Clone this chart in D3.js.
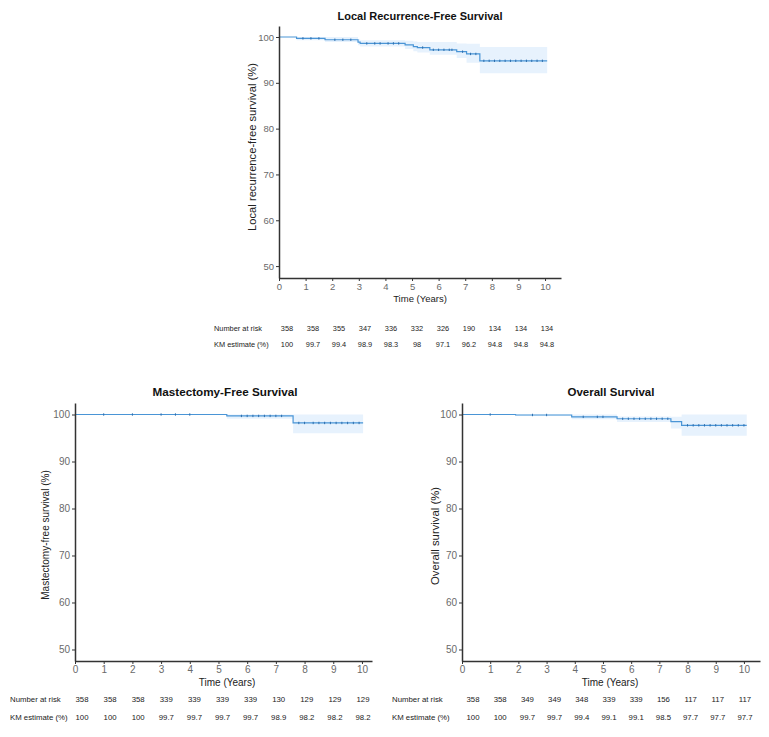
<!DOCTYPE html>
<html>
<head>
<meta charset="utf-8">
<script src="https://cdn.jsdelivr.net/npm/d3@7"></script>
<style>
  html, body { margin: 0; padding: 0; background: #fff; }
  svg { display: block; font-family: "Liberation Sans", Arial, sans-serif; }
</style>
</head>
<body>
<svg id="chart" width="769" height="737"></svg>
<script>
// ---------- DATA ----------
const xTicks = [0, 1, 2, 3, 4, 5, 6, 7, 8, 9, 10];
const yTicks = [50, 60, 70, 80, 90, 100];

// Local recurrence-free survival
const lrfsTimes = [0, 0.66, 1.73, 2.97, 3.05, 4.74, 5.05, 5.2, 5.67, 6.68, 7.05, 7.55, 10.08];
const lrfsSurv  = [100, 99.7, 99.4, 98.9, 98.6, 98.3, 97.9, 97.7, 97.2, 96.8, 96.3, 94.8, 94.8];
const lrfsUpper = [100, 100, 100, 99.5, 99.3, 99.2, 99.0, 98.9, 98.9, 98.6, 98.5, 97.8, 97.8];
const lrfsLower = [100, 99.3, 98.9, 98.2, 97.9, 97.4, 96.9, 96.6, 96.1, 95.4, 94.4, 92.1, 92.1];
const lrfsCensor = [0.9, 1.2, 1.5, 2.1, 2.4, 2.7, 3.3, 3.6, 3.8, 4.1, 4.3, 4.5, 5.4, 5.8, 6.0, 6.2, 6.4, 6.5, 6.9, 7.2, 7.4, 7.7, 7.9, 8.1, 8.3, 8.5, 8.7, 8.9, 9.1, 9.3, 9.5, 9.7, 9.9];
const lrfsAtRisk = [358, 358, 355, 347, 336, 332, 326, 190, 134, 134, 134];
const lrfsKM = ["100", "99.7", "99.4", "98.9", "98.3", "98", "97.1", "96.2", "94.8", "94.8", "94.8"];

// Mastectomy-free survival
const mfsTimes = [0, 5.29, 7.6, 10.04];
const mfsSurv  = [100, 99.7, 98.2, 98.2];
const mfsUpper = [100, 100, 100, 100];
const mfsLower = [100, 99.1, 96.0, 96.0];
const mfsCensor = [1.0, 2.0, 3.0, 3.5, 4.0, 5.8, 6.0, 6.2, 6.4, 6.6, 6.8, 7.0, 7.2, 7.8, 8.0, 8.3, 8.5, 8.7, 8.9, 9.1, 9.3, 9.5, 9.7, 9.9];
const mfsAtRisk = [358, 358, 358, 339, 339, 339, 339, 130, 129, 129, 129];
const mfsKM = ["100", "100", "100", "99.7", "99.7", "99.7", "99.7", "98.9", "98.2", "98.2", "98.2"];

// Overall survival
const osTimes = [0, 1.9, 3.89, 5.5, 7.41, 7.79, 10.1];
const osSurv  = [100, 99.9, 99.5, 99.1, 98.5, 97.7, 97.7];
const osUpper = [100, 100, 100, 99.6, 99.5, 100, 100];
const osLower = [100, 99.7, 99.0, 98.4, 97.0, 95.5, 95.5];
const osCensor = [1.0, 2.5, 3.0, 4.3, 4.8, 5.0, 5.7, 5.9, 6.1, 6.3, 6.5, 6.7, 6.9, 7.1, 7.3, 8.0, 8.2, 8.4, 8.6, 8.8, 9.0, 9.2, 9.4, 9.6, 9.8, 10.0];
const osAtRisk = [358, 358, 349, 349, 348, 339, 339, 156, 117, 117, 117];
const osKM = ["100", "100", "99.7", "99.7", "99.4", "99.1", "99.1", "98.5", "97.7", "97.7", "97.7"];

// ---------- DRAW ----------
const svg = d3.select("#chart");
const lineColor = "#4a95d6";
const bandColor = "#e7f2fd";
const censorColor = "#2d6eae";

function drawKM(cfg) {
  const g = svg.append("g");
  const x = d3.scaleLinear().domain([0, cfg.xMax]).range([cfg.left, cfg.right]);
  const y = d3.scaleLinear().domain([cfg.yMin, cfg.yMax]).range([cfg.bottom, cfg.top]);

  const pts = cfg.times.map((t, i) => ({t, s: cfg.surv[i], u: cfg.upper[i], l: cfg.lower[i]}));

  g.append("path")
    .datum(pts)
    .attr("fill", bandColor)
    .attr("d", d3.area().curve(d3.curveStepAfter)
      .x(d => x(d.t)).y0(d => y(d.l)).y1(d => y(d.u)));

  g.append("path")
    .datum(pts)
    .attr("fill", "none")
    .attr("stroke", lineColor)
    .attr("stroke-width", 1.2)
    .attr("d", d3.line().curve(d3.curveStepAfter).x(d => x(d.t)).y(d => y(d.s)));

  const survAt = t => { let v = cfg.surv[0]; cfg.times.forEach((tt, i) => { if (tt <= t) v = cfg.surv[i]; }); return v; };
  g.selectAll(".cens").data(cfg.censor).join("line")
    .attr("x1", d => x(d)).attr("x2", d => x(d))
    .attr("y1", d => y(survAt(d)) - 1.2).attr("y2", d => y(survAt(d)) + 1.2)
    .attr("stroke", censorColor).attr("stroke-width", 1);

  const xAxis = g.append("g").attr("transform", `translate(0,${cfg.bottom})`)
    .call(d3.axisBottom(x).tickValues(xTicks).tickSize(3).tickSizeOuter(0).tickPadding(2));
  const yAxis = g.append("g").attr("transform", `translate(${cfg.left},0)`)
    .call(d3.axisLeft(y).tickValues(yTicks).tickSize(3).tickSizeOuter(0).tickPadding(2));
  [xAxis, yAxis].forEach(a => {
    a.select(".domain").attr("stroke", "#333").attr("stroke-width", 1.5);
    a.selectAll(".tick line").attr("stroke", "#333");
    a.selectAll(".tick text").attr("fill", "#6a6a6a").attr("font-size", cfg.tickSize)
      .attr("font-family", "Liberation Sans, Arial, sans-serif");
  });

  g.append("text").attr("x", cfg.titleX).attr("y", cfg.titleY)
    .attr("text-anchor", "middle").attr("font-weight", "bold").attr("font-size", cfg.titleSize)
    .attr("fill", "#111").text(cfg.title);

  g.append("text").attr("x", cfg.xLabelX).attr("y", cfg.xLabelY)
    .attr("text-anchor", "middle").attr("font-size", cfg.xLabelSize).attr("fill", "#222").text("Time (Years)");

  g.append("text")
    .attr("transform", `translate(${cfg.yLabelX},${cfg.yLabelY}) rotate(-90)`)
    .attr("text-anchor", "middle").attr("dominant-baseline", "central")
    .attr("font-size", cfg.yLabelSize).attr("fill", "#222").text(cfg.yLabel);

  const cx = d3.scaleLinear().domain([0, 10]).range([cfg.colStart, cfg.colEnd]);
  const fs = cfg.tableSize;
  g.append("text").attr("x", cfg.tableLabelX).attr("y", cfg.row1Y)
    .attr("font-size", fs).attr("fill", "#222").text("Number at risk");
  g.append("text").attr("x", cfg.tableLabelX).attr("y", cfg.row2Y)
    .attr("font-size", fs).attr("fill", "#222").text("KM estimate (%)");
  g.selectAll(".r1").data(cfg.atRisk).join("text")
    .attr("x", (d, i) => cx(xTicks[i])).attr("y", cfg.row1Y)
    .attr("text-anchor", "middle").attr("font-size", fs).attr("fill", "#222").text(d => d);
  g.selectAll(".r2").data(cfg.km).join("text")
    .attr("x", (d, i) => cx(xTicks[i])).attr("y", cfg.row2Y)
    .attr("text-anchor", "middle").attr("font-size", fs).attr("fill", "#222").text(d => d);
}

drawKM({
  title: "Local Recurrence-Free Survival", titleX: 420, titleY: 20, titleSize: 11,
  yLabel: "Local recurrence-free survival (%)", yLabelX: 252, yLabelY: 147, yLabelSize: 11.2,
  left: 279, right: 561, xMax: 10.6, top: 26, bottom: 278, yMin: 47.4, yMax: 102.4,
  tickSize: 9.5, xLabelX: 420, xLabelY: 302, xLabelSize: 9.5,
  times: lrfsTimes, surv: lrfsSurv, upper: lrfsUpper, lower: lrfsLower, censor: lrfsCensor,
  atRisk: lrfsAtRisk, km: lrfsKM, tableLabelX: 214, colStart: 287, colEnd: 547, row1Y: 331, row2Y: 347, tableSize: 7.4
});

drawKM({
  title: "Mastectomy-Free Survival", titleX: 225, titleY: 396, titleSize: 11.7,
  yLabel: "Mastectomy-free survival (%)", yLabelX: 45, yLabelY: 535, yLabelSize: 10,
  left: 75, right: 372, xMax: 10.35, top: 403, bottom: 661, yMin: 47.55, yMax: 102.45,
  tickSize: 10, xLabelX: 227, xLabelY: 686, xLabelSize: 10,
  times: mfsTimes, surv: mfsSurv, upper: mfsUpper, lower: mfsLower, censor: mfsCensor,
  atRisk: mfsAtRisk, km: mfsKM, tableLabelX: 10, colStart: 82, colEnd: 363, row1Y: 702, row2Y: 720, tableSize: 7.8
});

drawKM({
  title: "Overall Survival", titleX: 611, titleY: 396, titleSize: 11.5,
  yLabel: "Overall survival (%)", yLabelX: 435, yLabelY: 536, yLabelSize: 11.3,
  left: 462, right: 760, xMax: 10.57, top: 403, bottom: 661, yMin: 47.55, yMax: 102.45,
  tickSize: 10, xLabelX: 610, xLabelY: 686, xLabelSize: 10,
  times: osTimes, surv: osSurv, upper: osUpper, lower: osLower, censor: osCensor,
  atRisk: osAtRisk, km: osKM, tableLabelX: 392, colStart: 473, colEnd: 745, row1Y: 702, row2Y: 720, tableSize: 7.8
});
</script>
</body>
</html>
